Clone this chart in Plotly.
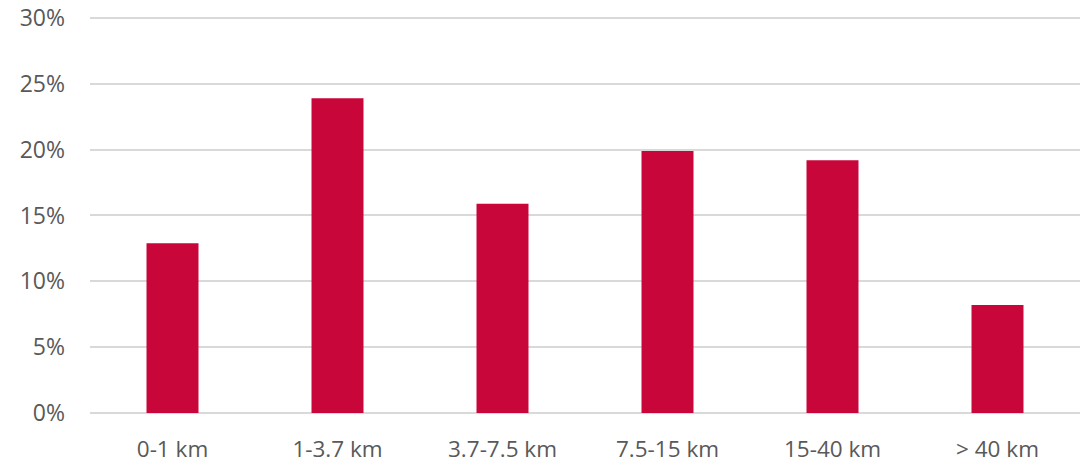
import plotly.graph_objects as go

categories = ["0-1 km", "1-3.7 km", "3.7-7.5 km", "7.5-15 km", "15-40 km", "> 40 km"]
shares = [0.129, 0.239, 0.159, 0.199, 0.192, 0.082]
tick_vals = [0, 0.05, 0.10, 0.15, 0.20, 0.25, 0.30]
tick_text = ["0%", "5%", "10%", "15%", "20%", "25%", "30%"]

fig = go.Figure(go.Bar(x=categories, y=shares, marker=dict(color="#C8063A", line=dict(width=0))))

fig.update_layout(
    width=1081, height=454,
    margin=dict(l=82, r=9, t=7, b=49),
    paper_bgcolor="white", plot_bgcolor="white",
    bargap=0.685,
    showlegend=False,
    font=dict(family="Open Sans", size=23, color="#595959"),
    xaxis=dict(showgrid=False, showline=False, ticks="", automargin=False,
               ticklabelstandoff=20, ticklabeloverflow="allow",
               tickfont=dict(size=22.5, color="#595959")),
    yaxis=dict(range=[0, 0.30227], tickvals=tick_vals, ticktext=tick_text,
               showgrid=True, gridcolor="#D9D9D9", gridwidth=1.5,
               zeroline=True, zerolinecolor="#D9D9D9", zerolinewidth=1.5,
               showline=False, ticks="", ticklabelstandoff=24, automargin=False,
               ticklabeloverflow="allow",
               tickfont=dict(size=23, color="#595959")),
)

fig.write_html("out.html")
